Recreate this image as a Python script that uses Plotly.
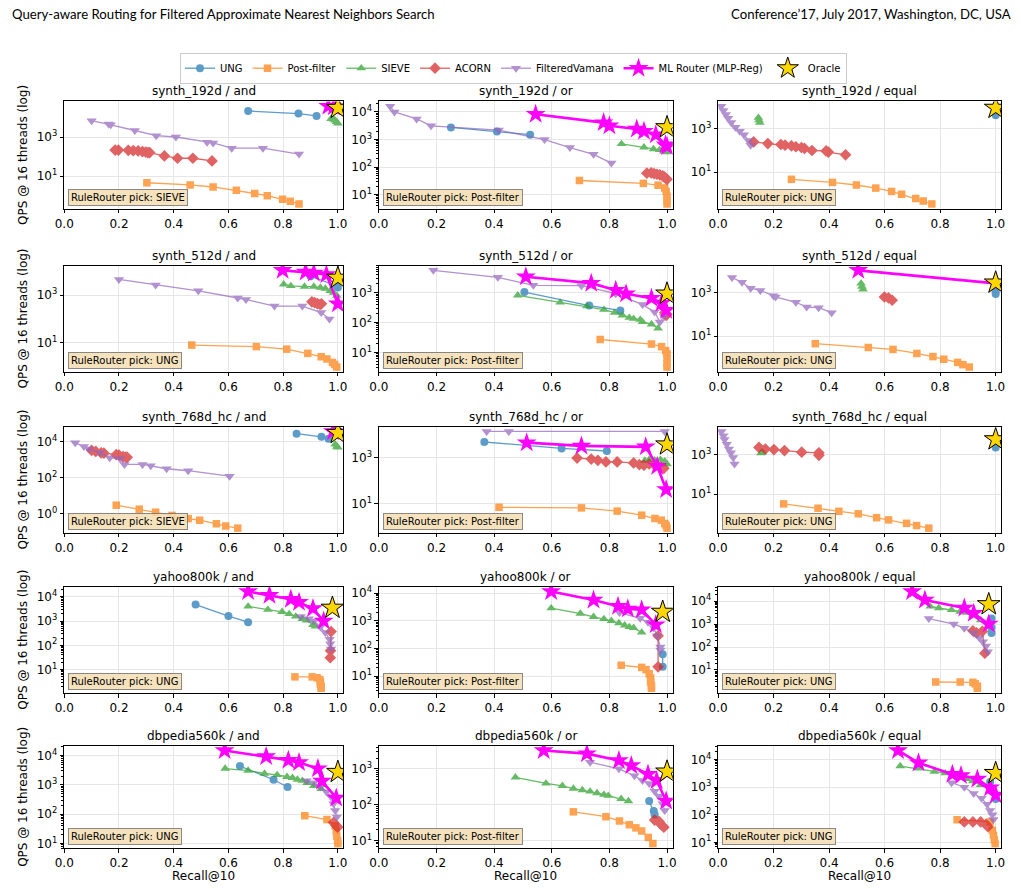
import math
import plotly.graph_objects as go

# Recall@10 (x) and QPS @ 16 threads (y) per panel
synth_192d_and = {
    "UNG": ([0.672, 0.856, 0.922], [21400, 15800, 12000]),
    "Post-filter": ([0.302, 0.46, 0.544, 0.629, 0.696, 0.742, 0.798, 0.826, 0.858],
                    [4.6, 3.55, 2.8, 1.9, 1.3, 1.0, 0.66, 0.52, 0.38]),
    "SIEVE": ([0.975, 0.985, 0.99, 0.995, 1.0], [8500, 8000, 7000, 6000, 5000]),
    "ACORN": ([0.186, 0.198, 0.234, 0.252, 0.27, 0.286, 0.298, 0.306, 0.312, 0.366, 0.414, 0.47, 0.54],
              [215, 215, 210, 200, 195, 180, 170, 160, 160, 108, 82, 82, 60]),
    "FilteredVamana": ([0.10, 0.162, 0.17, 0.258, 0.336, 0.408, 0.522, 0.544, 0.612, 0.726, 0.858],
                       [6800, 4600, 4200, 2150, 1170, 1000, 540, 500, 270, 270, 135]),
    "ML": ([0.965, 0.985], [37000, 35000]),
    "Oracle": ([1.0], [30500]),
}
synth_192d_or = {
    "UNG": ([0.25, 0.41, 0.525], [2750, 1950, 1500]),
    "Post-filter": ([0.696, 0.918, 0.969, 0.992, 0.997, 1.0, 1.0, 1.0],
                    [32.6, 25.6, 22, 17.5, 13, 9, 6.3, 4.6]),
    "SIEVE": ([0.842, 0.92, 0.953, 0.974, 0.99, 1.0], [690, 520, 450, 420, 370, 350]),
    "ACORN": ([0.93, 0.945, 0.955, 0.965, 0.975, 0.985, 0.99, 0.995, 1.0],
              [60, 62, 58, 55, 52, 48, 44, 40, 36]),
    "FilteredVamana": ([0.039, 0.054, 0.131, 0.181, 0.416, 0.575, 0.663, 0.745, 0.807],
                       [16000, 10000, 5600, 3150, 2200, 1000, 510, 290, 140]),
    "ML": ([0.544, 0.78, 0.80, 0.895, 0.92, 0.961, 0.995, 1.0],
           [8300, 4100, 3150, 2400, 2000, 1500, 640, 560]),
    "Oracle": ([1.0], [2760]),
}
synth_192d_equal = {
    "UNG": ([1.0], [4300]),
    "Post-filter": ([0.264, 0.412, 0.498, 0.568, 0.625, 0.661, 0.712, 0.739, 0.77],
                    [4.6, 3.3, 2.5, 1.8, 1.26, 0.93, 0.59, 0.45, 0.33]),
    "SIEVE": ([0.145, 0.147, 0.15], [3350, 2550, 2000]),
    "ACORN": ([0.128, 0.179, 0.226, 0.241, 0.264, 0.28, 0.3, 0.311, 0.338, 0.389, 0.397, 0.459],
              [250, 210, 190, 177, 165, 150, 138, 125, 100, 96, 85, 63]),
    "FilteredVamana": ([0.011, 0.019, 0.028, 0.036, 0.047, 0.062, 0.078, 0.093, 0.109, 0.117],
                       [11300, 7200, 4750, 3150, 2000, 1190, 790, 540, 295, 177]),
    "ML": ([1.0], [9200]),
    "Oracle": ([1.0], [9500]),
}
synth_512d_and = {
    "UNG": ([0.9, 0.996, 1.0], [6150, 2400, 2050]),
    "Post-filter": ([0.466, 0.702, 0.813, 0.89, 0.939, 0.96, 0.98, 0.988, 0.996],
                    [8, 6.9, 5.4, 3.6, 2.6, 2.1, 1.5, 1.23, 0.96]),
    "SIEVE": ([0.802, 0.828, 0.878, 0.912, 0.936, 0.954, 0.972, 0.984, 0.996],
              [2800, 2400, 2250, 2250, 2050, 1870, 1500, 1250, 940]),
    "ACORN": ([0.905, 0.915, 0.925, 0.935, 0.94], [520, 480, 440, 400, 430]),
    "FilteredVamana": ([0.2, 0.334, 0.49, 0.634, 0.664, 0.768, 0.87, 0.939, 0.969],
                       [4500, 2650, 1500, 750, 650, 345, 345, 185, 98]),
    "ML": ([0.798, 0.882, 0.912, 0.958, 1.0], [10800, 9300, 8400, 7200, 430]),
    "Oracle": ([1.0], [5250]),
}
synth_512d_or = {
    "UNG": ([0.505, 0.73, 0.838], [1050, 370, 255]),
    "Post-filter": ([0.768, 0.946, 0.981, 0.995, 1.0, 1.0, 1.0, 1.0],
                    [27, 19, 15.5, 11.5, 9, 6.3, 4.3, 3.2]),
    "SIEVE": ([0.482, 0.629, 0.722, 0.781, 0.818, 0.845, 0.869, 0.884, 0.907, 0.915, 0.946, 0.969],
              [820, 475, 355, 270, 215, 175, 145, 135, 125, 105, 87, 64]),
    "ACORN": ([0.992, 0.997, 1.0], [215, 175, 190]),
    "FilteredVamana": ([0.189, 0.413, 0.536, 0.703, 0.822, 0.915, 0.957, 0.975, 0.99],
                       [5650, 3300, 1770, 1730, 930, 400, 225, 105, 160]),
    "ML": ([0.51, 0.737, 0.822, 0.858, 0.946, 0.981, 0.997], [3450, 2100, 1220, 930, 660, 455, 260]),
    "Oracle": ([1.0], [930]),
}
synth_512d_equal = {
    "UNG": ([1.0, 1.0], [1100, 850]),
    "Post-filter": ([0.35, 0.541, 0.63, 0.716, 0.774, 0.813, 0.863, 0.882, 0.905],
                    [4.5, 3.0, 2.45, 1.6, 1.15, 0.87, 0.62, 0.49, 0.38]),
    "SIEVE": ([0.515, 0.518, 0.522], [2600, 1850, 1400]),
    "ACORN": ([0.599, 0.614, 0.627], [620, 560, 440]),
    "FilteredVamana": ([0.05, 0.086, 0.117, 0.152, 0.199, 0.207, 0.28, 0.319, 0.362, 0.409],
                       [4850, 2900, 1560, 1230, 710, 620, 355, 215, 200, 118]),
    "ML": ([0.505, 1.0], [10300, 2600]),
    "Oracle": ([1.0], [2800]),
}
synth_768d_hc_and = {
    "UNG": ([0.849, 0.94, 0.966], [27700, 18500, 14500]),
    "Post-filter": ([0.19, 0.274, 0.334, 0.394, 0.453, 0.495, 0.556, 0.59, 0.634],
                    [3.0, 1.8, 1.23, 0.81, 0.54, 0.44, 0.28, 0.21, 0.16]),
    "SIEVE": ([0.99, 0.996, 1.0], [7200, 5400, 4800]),
    "ACORN": ([0.1, 0.115, 0.135, 0.145, 0.19, 0.2, 0.215, 0.225, 0.23],
              [3300, 2900, 2400, 2300, 1900, 1800, 1500, 1400, 1350]),
    "FilteredVamana": ([0.04, 0.072, 0.09, 0.13, 0.166, 0.204, 0.22, 0.286, 0.316, 0.374, 0.453, 0.604],
                       [8850, 5400, 3900, 2400, 1300, 1150, 550, 550, 470, 315, 245, 123]),
    "ML": ([0.982], [37000]),
    "Oracle": ([1.0], [30000]),
}
synth_768d_hc_or = {
    "UNG": ([0.366, 0.634, 0.791], [4650, 2450, 1900]),
    "Post-filter": ([0.417, 0.703, 0.827, 0.912, 0.958, 0.98, 0.992, 0.997, 1.0],
                    [7.0, 6.6, 4.8, 3.2, 2.3, 1.95, 1.4, 1.15, 0.88]),
    "SIEVE": ([0.923, 0.938, 0.957, 0.977, 0.992, 1.0], [730, 800, 750, 800, 680, 520]),
    "ACORN": ([0.688, 0.737, 0.76, 0.788, 0.827, 0.884, 0.904, 0.92, 0.938, 0.957, 0.977, 0.989],
              [940, 850, 750, 640, 640, 580, 490, 465, 520, 465, 385, 340]),
    "FilteredVamana": ([0.374, 0.451, 0.992], [13300, 13300, 13300]),
    "ML": ([0.513, 0.703, 0.926, 0.966, 0.997], [4350, 3150, 2870, 420, 41]),
    "Oracle": ([1.0], [3600]),
}
synth_768d_hc_equal = {
    "UNG": ([1.0], [2250]),
    "Post-filter": ([0.236, 0.36, 0.435, 0.505, 0.571, 0.614, 0.679, 0.715, 0.759],
                    [3.3, 2.0, 1.4, 1.05, 0.67, 0.52, 0.35, 0.27, 0.2]),
    "SIEVE": ([0.154, 0.159], [1160, 1300]),
    "ACORN": ([0.147, 0.17, 0.201, 0.239, 0.301, 0.363, 0.363], [2250, 1870, 1740, 1560, 1300, 1200, 900]),
    "FilteredVamana": ([0.012, 0.019, 0.023, 0.031, 0.039, 0.046, 0.054, 0.059],
                       [14200, 8700, 5650, 3250, 1870, 1200, 690, 330]),
    "ML": ([1.0], [5300]),
    "Oracle": ([1.0], [5650]),
}
yahoo800k_and = {
    "UNG": ([0.48, 0.6, 0.672], [4800, 1600, 900]),
    "Post-filter": ([0.843, 0.906, 0.924, 0.934, 0.936, 0.936, 0.939, 0.939],
                    [5.0, 5.0, 4.6, 3.9, 3.1, 2.5, 2.0, 1.7]),
    "SIEVE": ([0.672, 0.744, 0.796, 0.822, 0.846, 0.87, 0.886, 0.909, 0.918],
              [4000, 2950, 2400, 1970, 1550, 1230, 1060, 700, 600]),
    "ACORN": ([0.975, 0.973, 0.972], [370, 60, 31]),
    "FilteredVamana": ([0.864, 0.894, 0.912, 0.936, 0.954, 0.97, 0.972, 0.975],
                       [1550, 1260, 1000, 570, 335, 180, 115, 70]),
    "ML": ([0.672, 0.75, 0.828, 0.858, 0.909, 0.948], [16500, 11600, 7900, 5900, 3300, 1000]),
    "Oracle": ([0.98], [3500]),
}
yahoo800k_or = {
    "UNG": ([0.985, 0.985], [62, 22]),
    "Post-filter": ([0.841, 0.912, 0.927, 0.938, 0.943, 0.943, 0.946, 0.946],
                    [25, 21, 17.4, 12.3, 8.8, 6.3, 4.6, 3.7]),
    "SIEVE": ([0.598, 0.699, 0.745, 0.781, 0.807, 0.833, 0.853, 0.869, 0.884, 0.912],
              [2850, 1830, 1400, 1170, 1000, 830, 690, 600, 560, 380]),
    "ACORN": ([0.969, 0.969], [290, 22]),
    "FilteredVamana": ([0.835, 0.907, 0.934, 0.954, 0.966, 0.977, 0.977],
                       [1980, 1230, 880, 560, 290, 114, 88]),
    "ML": ([0.598, 0.745, 0.83, 0.864, 0.912, 0.961], [11400, 5600, 3350, 2700, 2500, 730]),
    "Oracle": ([0.985], [2100]),
}
yahoo800k_equal = {
    "UNG": ([0.985, 0.985, 0.985], [1730, 700, 410]),
    "Post-filter": ([0.784, 0.872, 0.918, 0.926, 0.934, 0.934], [3.0, 3.0, 2.9, 2.5, 2.0, 1.6]),
    "SIEVE": ([0.764, 0.795, 0.841, 0.872, 0.895, 0.918, 0.946], [5800, 4950, 4100, 3500, 3100, 2400, 1470]),
    "ACORN": ([0.918, 0.931, 0.952, 0.961], [510, 410, 480, 54]),
    "FilteredVamana": ([0.759, 0.849, 0.887, 0.921, 0.941, 0.954, 0.965, 0.972],
                       [1730, 1000, 660, 410, 250, 170, 110, 62]),
    "ML": ([0.699, 0.745, 0.887, 0.921, 0.975], [26000, 11000, 4950, 2950, 1000]),
    "Oracle": ([0.975], [7200]),
}
dbpedia560k_and = {
    "UNG": ([0.642, 0.765, 0.816], [4400, 1500, 850]),
    "Post-filter": ([0.879, 0.96, 0.99, 0.994, 0.996, 0.999, 1.0], [89, 66, 40, 26, 18, 12.6, 10]),
    "SIEVE": ([0.588, 0.672, 0.732, 0.778, 0.814, 0.834, 0.852, 0.87, 0.888, 0.912, 0.939],
              [3600, 3100, 2450, 2200, 1900, 1750, 1520, 1400, 1180, 930, 740]),
    "ACORN": ([0.984, 0.994, 0.999], [52, 41, 36]),
    "FilteredVamana": ([0.886, 0.912, 0.936, 0.958, 0.975, 0.984, 0.99, 0.996],
                       [1400, 1180, 850, 590, 390, 230, 135, 80]),
    "ML": ([0.586, 0.738, 0.819, 0.858, 0.927, 0.942, 0.994], [15000, 9300, 7000, 5800, 3600, 1350, 360]),
    "Oracle": ([1.0], [2750]),
}
dbpedia560k_or = {
    "UNG": ([0.938, 0.954, 0.957], [126, 66, 53]),
    "Post-filter": ([0.675, 0.788, 0.835, 0.869, 0.892, 0.912, 0.935, 0.951],
                    [63, 46, 35, 27.5, 22.5, 18.4, 12.2, 8.2]),
    "SIEVE": ([0.474, 0.58, 0.637, 0.675, 0.706, 0.733, 0.757, 0.781, 0.796, 0.841, 0.866],
              [580, 390, 335, 280, 255, 233, 210, 190, 178, 145, 126]),
    "ACORN": ([0.957, 0.972, 0.98, 0.989], [37, 34, 27.5, 23.4]),
    "FilteredVamana": ([0.733, 0.833, 0.887, 0.915, 0.938, 0.957, 0.972, 0.985, 0.992],
                       [1530, 1000, 640, 470, 390, 235, 170, 105, 69]),
    "ML": ([0.572, 0.722, 0.833, 0.876, 0.934, 0.964, 0.997], [3250, 2650, 1700, 1230, 710, 470, 126]),
    "Oracle": ([1.0], [830]),
}
dbpedia560k_equal = {
    "UNG": ([0.98, 1.0], [1550, 370]),
    "Post-filter": ([0.861, 0.98, 0.988, 0.992, 0.995, 0.998], [66, 55, 27, 18, 12.4, 9]),
    "SIEVE": ([0.656, 0.718, 0.779, 0.818, 0.849, 0.872, 0.895, 0.918, 0.946],
              [5900, 4800, 3700, 3250, 2700, 2300, 2000, 1680, 1230]),
    "ACORN": ([0.887, 0.918, 0.946, 0.965, 0.972], [55, 55, 55, 45, 37]),
    "FilteredVamana": ([0.841, 0.887, 0.921, 0.949, 0.969, 0.98, 0.988, 0.992],
                       [1470, 1000, 590, 400, 240, 142, 100, 67]),
    "ML": ([0.648, 0.722, 0.844, 0.875, 0.934, 0.98, 1.0], [21700, 7700, 2970, 2670, 2000, 950, 520]),
    "Oracle": ([1.0], [3250]),
}

panels = [
    synth_192d_and, synth_192d_or, synth_192d_equal,
    synth_512d_and, synth_512d_or, synth_512d_equal,
    synth_768d_hc_and, synth_768d_hc_or, synth_768d_hc_equal,
    yahoo800k_and, yahoo800k_or, yahoo800k_equal,
    dbpedia560k_and, dbpedia560k_or, dbpedia560k_equal,
]
titles = [
    "synth_192d / and", "synth_192d / or", "synth_192d / equal",
    "synth_512d / and", "synth_512d / or", "synth_512d / equal",
    "synth_768d_hc / and", "synth_768d_hc / or", "synth_768d_hc / equal",
    "yahoo800k / and", "yahoo800k / or", "yahoo800k / equal",
    "dbpedia560k / and", "dbpedia560k / or", "dbpedia560k / equal",
]
rule_picks = [
    "SIEVE", "Post-filter", "UNG",
    "UNG", "Post-filter", "UNG",
    "SIEVE", "Post-filter", "UNG",
    "UNG", "Post-filter", "UNG",
    "UNG", "Post-filter", "UNG",
]
# exponents of the labelled y ticks
ytick_exps = [
    [1, 3], [1, 2, 3, 4], [1, 3],
    [1, 3], [1, 2, 3], [1, 3],
    [0, 2, 4], [1, 3], [1, 3],
    [1, 2, 3, 4], [1, 2, 3, 4], [1, 2, 3, 4],
    [1, 2, 3, 4], [1, 2, 3], [1, 2, 3, 4],
]

W, H = 1021, 889
FONT = "DejaVu Sans, sans-serif"

base_styles = {
    "UNG": ("#1f77b4", "circle", 8),
    "Post-filter": ("#ff7f0e", "square", 7.5),
    "SIEVE": ("#2ca02c", "triangle-up", 8.5),
    "ACORN": ("#d62728", "diamond", 9),
    "FilteredVamana": ("#9467bd", "triangle-down", 9),
}

# panel boxes in pixels
col_px = [(55, 338), (374, 672), (718, 1005)]
row_px = [(100, 208), (265, 372), (427, 534), (588, 695), (748, 851)]


def px_x(p):
    return p / W


def px_y(p):
    return 1 - p / H


fig = go.Figure()
annotations = []

for i, panel in enumerate(panels):
    r, c = divmod(i, 3)
    n = i + 1
    xa = "x" if n == 1 else f"x{n}"
    ya = "y" if n == 1 else f"y{n}"
    first = i == 0

    for name, (color, symbol, size) in base_styles.items():
        xs, ys = panel[name]
        fig.add_trace(go.Scatter(
            x=xs, y=ys, xaxis=xa, yaxis=ya, mode="lines+markers", name=name,
            line=dict(color=color, width=1.3), opacity=0.72,
            marker=dict(symbol=symbol, size=size, color=color),
            showlegend=first, legendgroup=name))
    xs, ys = panel["ML"]
    fig.add_trace(go.Scatter(
        x=xs, y=ys, xaxis=xa, yaxis=ya, mode="lines+markers", name="ML Router (MLP-Reg)",
        line=dict(color="#ff00ff", width=2.6),
        marker=dict(symbol="star", size=15, color="#ff00ff"),
        showlegend=first, legendgroup="ML"))
    xs, ys = panel["Oracle"]
    fig.add_trace(go.Scatter(
        x=xs, y=ys, xaxis=xa, yaxis=ya, mode="markers", name="Oracle",
        marker=dict(symbol="star", size=17, color="#ffd700", line=dict(color="black", width=1)),
        showlegend=first, legendgroup="Oracle"))

    allv = [v for k in panel for v in panel[k][1]]
    lo, hi = math.log10(min(allv)), math.log10(max(allv))
    pad = 0.05 * (hi - lo)

    exps = ytick_exps[i]
    minor_vals = []
    if len(exps) > 1 and exps[1] - exps[0] == 1:
        for d in range(math.floor(lo - pad), math.ceil(hi + pad) + 1):
            minor_vals += [k * 10 ** d for k in range(2, 10)]

    x0, x1 = col_px[c]
    y0, y1 = row_px[r]
    axis_common = dict(showline=True, linecolor="black", linewidth=1, mirror=True,
                       ticks="outside", ticklen=3.5, tickcolor="black",
                       showgrid=True, gridcolor="#e6e6e6", gridwidth=1, zeroline=False,
                       tickfont=dict(family=FONT, size=12, color="black"))
    yaxis = dict(axis_common, domain=[px_y(y1), px_y(y0)], anchor=xa, type="log",
                 range=[lo - pad, hi + pad],
                 tickvals=[10 ** e for e in exps],
                 ticktext=[f"10<sup>{e}</sup>" for e in exps])
    if minor_vals:
        yaxis["minor"] = dict(tickmode="array", tickvals=minor_vals, ticks="outside",
                              ticklen=2, tickcolor="black", showgrid=False)
    fig.update_layout({
        ("xaxis" if n == 1 else f"xaxis{n}"): dict(
            axis_common, domain=[px_x(x0), px_x(x1)], anchor=ya, range=[0, 1.02],
            tickvals=[0, 0.2, 0.4, 0.6, 0.8, 1.0],
            ticktext=["0.0", "0.2", "0.4", "0.6", "0.8", "1.0"]),
        ("yaxis" if n == 1 else f"yaxis{n}"): yaxis,
    })

    annotations.append(dict(
        text=titles[i], xref="paper", yref="paper", x=px_x((x0 + x1) / 2), y=px_y(y0 - 1),
        xanchor="center", yanchor="bottom", showarrow=False,
        font=dict(family=FONT, size=12, color="black")))
    annotations.append(dict(
        text=f"RuleRouter pick: {rule_picks[i]}", xref="paper", yref="paper",
        x=px_x(x0 + 4), y=px_y(y1 - 3), xanchor="left", yanchor="bottom", showarrow=False,
        bgcolor="rgba(245,222,179,0.85)", bordercolor="rgba(110,110,110,0.8)",
        borderwidth=1, borderpad=2, font=dict(family=FONT, size=10, color="black")))
    if c == 0:
        annotations.append(dict(
            text="QPS @ 16 threads (log)", xref="paper", yref="paper",
            x=px_x(13), y=px_y((y0 + y1) / 2), textangle=-90, showarrow=False,
            xanchor="center", yanchor="middle", font=dict(family=FONT, size=12, color="black")))
    if r == 4:
        annotations.append(dict(
            text="Recall@10", xref="paper", yref="paper", x=px_x((x0 + x1) / 2), y=px_y(879),
            xanchor="center", yanchor="middle", showarrow=False,
            font=dict(family=FONT, size=12, color="black")))

HEAD = "Lato, sans-serif"
annotations.append(dict(
    text="Query-aware Routing for Filtered Approximate Nearest Neighbors Search",
    xref="paper", yref="paper", x=px_x(0), y=px_y(12), xanchor="left", yanchor="middle",
    showarrow=False, font=dict(family=HEAD, size=13.2, color="black")))
annotations.append(dict(
    text="Conference’17, July 2017, Washington, DC, USA",
    xref="paper", yref="paper", x=px_x(1017), y=px_y(12), xanchor="right", yanchor="middle",
    showarrow=False, font=dict(family=HEAD, size=13.2, color="black")))

fig.update_layout(
    width=W, height=H, margin=dict(l=0, r=0, t=0, b=0),
    paper_bgcolor="white", plot_bgcolor="white",
    annotations=annotations,
    legend=dict(orientation="h", x=0.5, xanchor="center", y=px_y(51), yanchor="top",
                bordercolor="#cccccc", borderwidth=1, bgcolor="white",
                font=dict(family=FONT, size=10, color="black")),
)

# the page body has a default 8px margin; drop it so the figure fills the window
fig.write_html("out.html", config={"displayModeBar": False},
               post_script="document.body.style.margin='0px';")
